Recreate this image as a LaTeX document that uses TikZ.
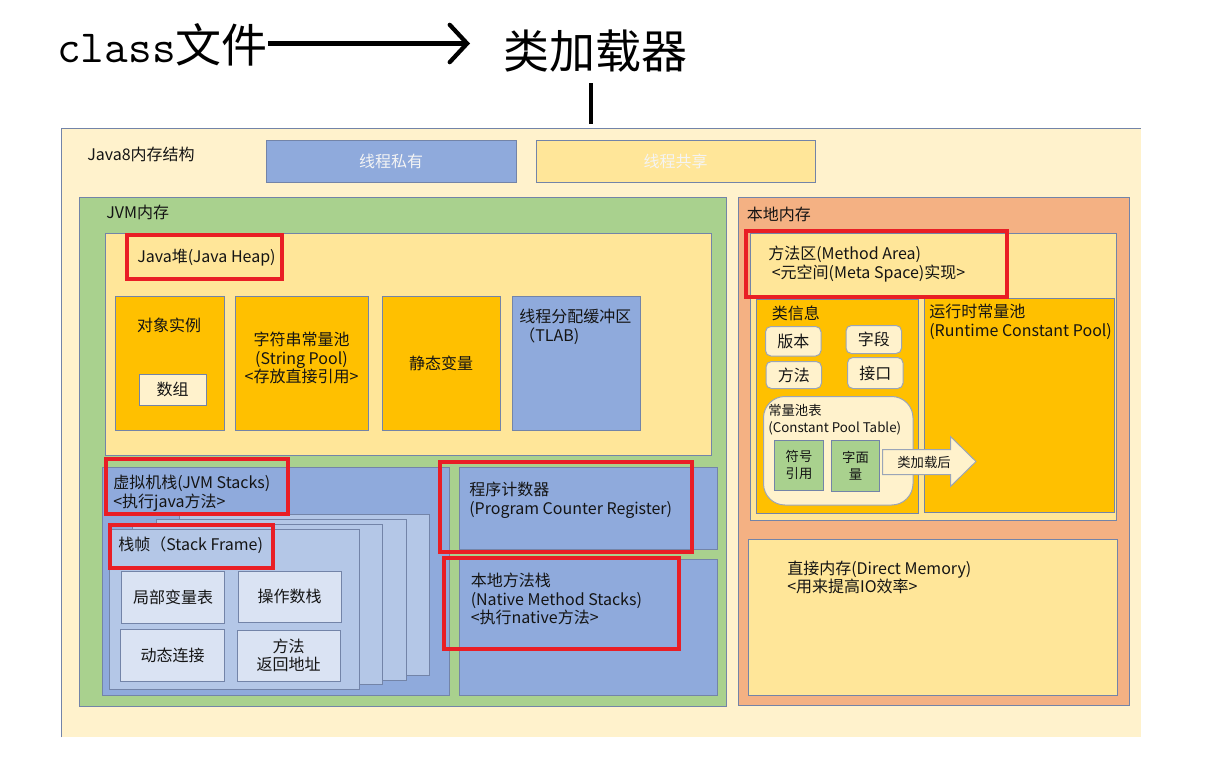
\documentclass[tikz,border=0pt]{standalone}
\usepackage{fontspec}
\setmainfont{Noto Sans CJK SC}
\newfontfamily\cjkfont{Noto Sans CJK SC}
\usetikzlibrary{fit,arrows.meta}

\definecolor{cream}{HTML}{FFF2CC}
\definecolor{bluebox}{HTML}{8FAADC}
\definecolor{yelbox}{HTML}{FFE699}
\definecolor{greenbox}{HTML}{A9D18E}
\definecolor{orangebox}{HTML}{F4B183}
\definecolor{goldbox}{HTML}{FFC000}
\definecolor{framebox}{HTML}{B4C7E7}
\definecolor{paleblue}{HTML}{DAE3F3}
\definecolor{bordc}{HTML}{7384A8}
\definecolor{softbord}{HTML}{9AA5B8}
\definecolor{redc}{HTML}{E91E25}
\definecolor{txtc}{HTML}{141414}
\definecolor{whitetxt}{HTML}{F4F4F4}

\tikzset{
  box/.style={draw=bordc, line width=0.75pt, inner sep=0pt, rectangle},
  redbox/.style={draw=redc, line width=3pt, inner sep=0pt, rectangle},
  smallbox/.style={draw=softbord, line width=0.75pt, inner sep=0pt, rectangle, rounded corners=4pt, fill=cream},
  txt/.style={inner sep=0pt, text=txtc, font=\fontsize{12}{14}\selectfont, align=left},
  ctxt/.style={inner sep=0pt, text=txtc, font=\fontsize{12}{14}\selectfont, align=center},
  smtxt/.style={inner sep=0pt, text=txtc, font=\fontsize{10}{12.5}\selectfont, align=left},
  smctxt/.style={inner sep=0pt, text=txtc, font=\fontsize{10}{12.5}\selectfont, align=center},
  bigtxt/.style={inner sep=0pt, text=black, font=\fontsize{34.5}{38}\selectfont},
}

\newcommand\bx[6]{\node[#2, fit={(#3,#4)(#5,#6)}] (#1) {};}

\begin{document}
\begin{tikzpicture}[x=0.75pt,y=-0.75pt]
\useasboundingbox (0,0) rectangle (1206,778);

% ---- top: class file -> class loader
\node[bigtxt, anchor=west] (cls) at (57,45) {{\ttfamily class}文件};
\node[bigtxt, anchor=west] (loader) at (503,51) {类加载器};
\coordinate (arrEnd) at (470,43.5);
\draw[line width=3.2pt, -{Straight Barb[length=13pt,width=28pt,line cap=round]}] (cls.east |- arrEnd) -- (arrEnd);
\coordinate (vTop) at (591,83);
\coordinate (vBot) at (591,124);
\draw[line width=2.4pt] (vTop) -- (vBot);

% ---- outer background
\node[fill=cream, inner sep=0pt, fit={(62,129)(1141,737)}] (outer) {};
\draw[bordc, line width=0.75pt] (outer.south west) -- (outer.north west) -- (outer.north east);
\node[txt, anchor=west] (t8) at (87,154) {Java8内存结构};

\bx{priv}{box, fill=bluebox}{266}{140}{516}{182}
\node[ctxt, text=whitetxt] (privt) at (priv.center) {线程私有};
\bx{shar}{box, fill=yelbox}{536}{140}{815}{182}
\node[ctxt, text=whitetxt] (shart) at (shar.center) {线程共享};

% ---- JVM memory
\bx{jvm}{box, fill=greenbox}{79}{197}{726}{706}
\node[txt, anchor=west] (jvmt) at (106,212) {JVM内存};

% Java heap
\bx{heap}{box, fill=yelbox}{105}{233}{711}{455}
\bx{obj}{box, fill=goldbox}{115}{296}{224}{430}
\node[ctxt] (objt) at (169,325) {对象实例};
\bx{arr}{box, fill=cream}{139}{374}{206}{405}
\node[ctxt] (arrt) at (arr.center) {数组};
\bx{spool}{box, fill=goldbox}{235.5}{296}{368}{430}
\node[ctxt] (spoolt) at (301.5,358) {字符串常量池\\(String Pool)\\<存放直接引用>};
\bx{stat}{box, fill=goldbox}{382}{296}{500}{430}
\node[ctxt] (statt) at (441,363) {静态变量};
\bx{tlab}{box, fill=bluebox}{512}{296}{640}{430}
\node[txt, anchor=west] (tlabt) at (519,327) {线程分配缓冲区\\（TLAB)};
\bx{heapred}{redbox}{127}{235}{282}{279}
\node[txt, anchor=west] (heapt) at (137,258) {Java堆(Java Heap)};

% JVM stacks
\bx{jstk}{box, fill=bluebox}{102.5}{467}{449}{695.5}
\bx{fr3}{box, fill=framebox}{179}{514.5}{429.5}{675}
\bx{fr2}{box, fill=framebox}{156}{519.5}{406}{680}
\bx{fr1}{box, fill=framebox}{132.5}{524.5}{382.5}{684.5}
\bx{fr0}{box, fill=framebox}{109}{529}{359}{689}
\bx{lvt}{box, fill=paleblue}{121.5}{571.5}{224.5}{623}
\node[ctxt] (lvtt) at (lvt.center) {局部变量表};
\bx{ops}{box, fill=paleblue}{238}{571}{341}{622.5}
\node[ctxt] (opst) at (ops.center) {操作数栈};
\bx{dyn}{box, fill=paleblue}{120.5}{629.5}{224.5}{681}
\node[ctxt] (dynt) at (dyn.center) {动态连接};
\bx{ret}{box, fill=paleblue}{237}{630}{340}{681}
\node[ctxt] (rett) at (ret.center) {方法\\返回地址};
\bx{jstkred}{redbox}{105.5}{459}{287.5}{513.5}
\node[txt, anchor=west] (jstkt) at (113,493.5) {虚拟机栈(JVM Stacks)\\<执行java方法>};
\bx{frred}{redbox}{109.5}{525}{272.5}{568}
\node[txt, anchor=west] (frt) at (118,545) {栈帧（Stack Frame)};

% PC register & native stacks
\bx{pc}{box, fill=bluebox}{459}{467}{717}{549.5}
\bx{nat}{box, fill=bluebox}{459}{559}{717}{695.5}
\bx{pcred}{redbox}{439.5}{461.5}{692}{552}
\node[txt, anchor=west] (pct) at (469,500) {程序计数器\\(Program Counter Register)};
\bx{natred}{redbox}{443.5}{558}{678.5}{648.5}
\node[txt, anchor=west] (natt) at (470.5,599) {本地方法栈\\(Native Method Stacks)\\<执行native方法>};

% ---- native memory
\bx{natmem}{box, fill=orangebox}{738}{197}{1129}{705}
\node[txt, anchor=west] (natmemt) at (746.5,214) {本地内存};

\bx{marea}{box, fill=yelbox}{750}{233.5}{1116.5}{520}
\bx{cinfo}{box, fill=goldbox}{756.5}{299.5}{918.5}{513}
\node[txt, anchor=west] (cinfot) at (771.5,313) {类信息};
\node[smallbox, fit={(765.5,326.5)(821,356)}] (ver) {};
\node[ctxt] (vert) at (ver.center) {版本};
\node[smallbox, fit={(846,325.5)(901.5,353.5)}] (fld) {};
\node[ctxt] (fldt) at (fld.center) {字段};
\node[smallbox, fit={(766,361.5)(821.5,388.5)}] (mth) {};
\node[ctxt] (mtht) at (mth.center) {方法};
\node[smallbox, fit={(847.5,357.5)(903,388.5)}] (itf) {};
\node[ctxt] (itft) at (itf.center) {接口};
\node[draw=softbord, line width=0.75pt, fill=cream, inner sep=0pt, rounded corners=16pt, fit={(763.5,396.5)(913,505)}] (cpt) {};
\node[smtxt, anchor=west] (cptt) at (768,420) {常量池表\\(Constant Pool Table)};
\bx{sym}{box, fill=greenbox}{774.5}{440}{823.5}{490.5}
\node[smctxt] (symt) at (sym.center) {符号\\引用};
\bx{lit}{box, fill=greenbox}{831.5}{440.5}{879.5}{491.5}
\node[smctxt] (litt) at (lit.center) {字面\\量};

\bx{rcp}{box, fill=goldbox}{924.5}{298.5}{1114.5}{512.5}
\node[txt, anchor=west] (rcpt) at (929,322) {运行时常量池\\(Runtime Constant Pool)};

\draw[draw=softbord, line width=0.75pt, fill=cream]
  (882.5,449.5) -- (950.5,449.5) -- (950.5,436.5) -- (976,461.5)
  -- (950.5,486.5) -- (950.5,474.5) -- (882.5,474.5) -- cycle;
\node[smctxt] (loadt) at (924,462) {类加载后};

\bx{mared}{redbox}{745.5}{231}{1007}{296.5}
\node[txt, anchor=west] (mareat) at (768,264) {方法区(Method Area)\\\ <元空间(Meta Space)实现>};

\bx{dmem}{box, fill=yelbox}{748.5}{539}{1117}{695}
\node[txt, anchor=west] (dmemt) at (787,577.5) {直接内存(Direct Memory)\\<用来提高IO效率>};

\end{tikzpicture}
\end{document}
